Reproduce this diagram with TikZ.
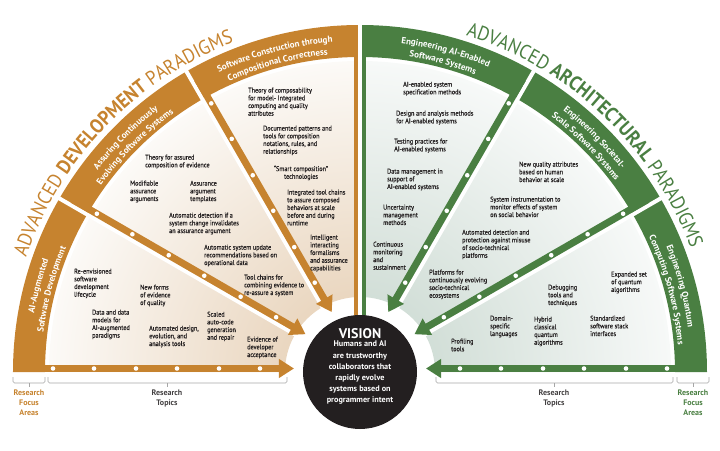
\documentclass[tikz,border=0pt]{standalone}
\usepackage{fontspec}
\setmainfont{PT Sans}
\newfontfamily\itemfam{PT Sans}[FakeStretch=0.9, FakeBold=0.4]
\newfontfamily\headfam{PT Sans}[FakeStretch=0.9]
\usetikzlibrary{arrows.meta, calc, decorations.text}
\definecolor{devorange}{HTML}{C6832F}
\definecolor{archgreen}{HTML}{4A7F42}
\definecolor{tanin}{HTML}{E4CBAE}
\definecolor{tanout}{HTML}{FCFAF7}
\definecolor{sagein}{HTML}{C6D6CD}
\definecolor{sageout}{HTML}{F7F9F8}
\definecolor{inkdark}{HTML}{231F20}
\newcommand{\ringpath}[4]{(#1:#4) arc[start angle=#1, end angle=#2, radius=#4] -- (#2:#3) arc[start angle=#2, end angle=#1, radius=#3] -- cycle}
\newcommand{\hdfont}{\headfam\fontsize{20}{20}\selectfont}
\newcommand{\bandfont}{\bfseries\fontsize{9}{9}\selectfont}
\tikzstyle{topic} = [font=\itemfam\fontsize{6.9}{7.7}\selectfont, text=inkdark, align=left, anchor=north west, inner sep=0pt]
\tikzstyle{arrowdev} = [draw=devorange, line width=7pt, -{Triangle[length=15pt, width=18pt]}]
\tikzstyle{arrowarch} = [draw=archgreen, line width=7pt, -{Triangle[length=15pt, width=18pt]}]
\tikzstyle{bandtext} = [decorate, decoration={text along path, text align=center, text color=white}]
\tikzstyle{visioncirc} = [circle, fill=inkdark, minimum size=114pt, inner sep=0pt]
\tikzstyle{visionhd} = [font=\bfseries\fontsize{14}{14}\selectfont, text=white, inner sep=0pt]
\tikzstyle{visionbody} = [font=\bfseries\fontsize{8.2}{11.2}\selectfont, text=white, align=center, inner sep=0pt]
\tikzstyle{focuslbl} = [font=\bfseries\fontsize{8}{10}\selectfont, align=center, anchor=north, inner sep=0pt]
\tikzstyle{topiclbl} = [font=\bfseries\fontsize{8}{10}\selectfont, text=inkdark!85, align=center, anchor=north, inner sep=0pt]
\tikzstyle{brace} = [draw=gray!70, line width=0.6pt, rounded corners=1.5pt]

\begin{document}
\begin{tikzpicture}[x=1pt, y=1pt]
\useasboundingbox (-360,-78) rectangle (360,372);

\begin{scope}
\clip \ringpath{90}{180}{75}{311};
\shade[inner color=tanin, outer color=tanout] (0,0) circle (311);
\end{scope}
\begin{scope}
\clip \ringpath{0}{90}{75}{311};
\shade[inner color=sagein, outer color=sageout] (0,0) circle (311);
\end{scope}
\fill[devorange] \ringpath{90}{180}{315}{347};
\fill[archgreen] \ringpath{0}{90}{315}{347};
\foreach \a in {30,60,90,120,150}
  \draw[white, line width=4pt] (\a:40) -- (\a:352);

\coordinate (devtop) at (-4,330);
\coordinate (devfoot) at (-4,50);
\coordinate (archtop) at (4,330);
\coordinate (archfoot) at (4,50);
\draw[devorange, line width=4pt] (devtop) -- (devfoot);
\draw[archgreen, line width=4pt] (archtop) -- (archfoot);

\coordinate (dev180s) at ($(180:335)+(90:3.5)$);
\coordinate (dev180e) at ($(180:66)+(90:3.5)$);
\coordinate (dev150s) at ($(150:335)+(60:5.5)$);
\coordinate (dev150e) at ($(150:66)+(60:5.5)$);
\coordinate (dev120s) at ($(120:335)+(30:5.5)$);
\coordinate (dev120e) at ($(120:66)+(30:5.5)$);
\coordinate (arch0s) at ($(0:335)+(90:3.5)$);
\coordinate (arch0e) at ($(0:66)+(90:3.5)$);
\coordinate (arch30s) at ($(30:335)+(120:5.5)$);
\coordinate (arch30e) at ($(30:66)+(120:5.5)$);
\coordinate (arch60s) at ($(60:335)+(150:5.5)$);
\coordinate (arch60e) at ($(60:66)+(150:5.5)$);
\draw[arrowdev] (dev180s) -- (dev180e);
\draw[arrowdev] (dev150s) -- (dev150e);
\draw[arrowdev] (dev120s) -- (dev120e);
\draw[arrowarch] (arch0s) -- (arch0e);
\draw[arrowarch] (arch30s) -- (arch30e);
\draw[arrowarch] (arch60s) -- (arch60e);
\foreach \r in {100,141,183,224,266,307} {
  \fill[white] ($(180:\r)+(90:3.5)$) circle (2.3);
  \fill[white] ($(150:\r)+(60:5.5)$) circle (2.3);
  \fill[white] ($(120:\r)+(30:5.5)$) circle (2.3);
  \fill[white] ($(0:\r)+(90:3.5)$) circle (2.3);
  \fill[white] ($(30:\r)+(120:5.5)$) circle (2.3);
  \fill[white] ($(60:\r)+(150:5.5)$) circle (2.3);
}

\path[bandtext, decoration={text={|\bandfont|AI-Augmented}}] (180:331) arc[start angle=180, end angle=150, radius=331];
\path[bandtext, decoration={text={|\bandfont|Software Development}}] (180:319) arc[start angle=180, end angle=150, radius=319];
\path[bandtext, decoration={text={|\bandfont|Assuring Continuously}}] (150:331) arc[start angle=150, end angle=120, radius=331];
\path[bandtext, decoration={text={|\bandfont|Evolving Software Systems}}] (150:319) arc[start angle=150, end angle=120, radius=319];
\path[bandtext, decoration={text={|\bandfont|Software Construction through}}] (120:331) arc[start angle=120, end angle=90, radius=331];
\path[bandtext, decoration={text={|\bandfont|Compositional Correctness}}] (120:319) arc[start angle=120, end angle=90, radius=319];
\path[bandtext, decoration={text={|\bandfont|Engineering AI-Enabled}}] (90:331) arc[start angle=90, end angle=60, radius=331];
\path[bandtext, decoration={text={|\bandfont|Software Systems}}] (90:319) arc[start angle=90, end angle=60, radius=319];
\path[bandtext, decoration={text={|\bandfont|Engineering Societal-}}] (60:331) arc[start angle=60, end angle=30, radius=331];
\path[bandtext, decoration={text={|\bandfont|Scale Software Systems}}] (60:319) arc[start angle=60, end angle=30, radius=319];
\path[bandtext, decoration={text={|\bandfont|Engineering Quantum}}] (30:331) arc[start angle=30, end angle=0, radius=331];
\path[bandtext, decoration={text={|\bandfont|Computing Software Systems}}] (30:319) arc[start angle=30, end angle=0, radius=319];

\path[decorate, decoration={text along path, text align=center, text color=devorange,
  text={|\hdfont|ADVANCED |\hdfont\bfseries|DEVELOPMENT|\hdfont\mdseries| PARADIGMS}}]
  (172:353) arc[start angle=172, end angle=100, radius=353];
\path[decorate, decoration={text along path, text align=center, text color=archgreen,
  text={|\hdfont|ADVANCED |\hdfont\bfseries|ARCHITECTURAL|\hdfont\mdseries| PARADIGMS}}]
  (82:353) arc[start angle=82, end angle=11, radius=353];

\node[topic] (aug1) at (-286,103.5) {Re-envisioned\\software\\development\\lifecycle};
\node[topic] (aug2) at (-220,87.5) {New forms\\of evidence\\of quality};
\node[topic] (aug3) at (-268,62.5) {Data and data\\models for\\AI-augmented\\paradigms};
\node[topic] (aug4) at (-211,46.5) {Automated design,\\evolution, and\\analysis tools};
\node[topic] (aug5) at (-153,60.5) {Scaled\\auto-code\\generation\\and repair};
\node[topic] (aug6) at (-113,35.5) {Evidence of\\developer\\acceptance};

\node[topic] (asr1) at (-215,217.5) {Theory for assured\\composition of evidence};
\node[topic] (asr2) at (-230,191.5) {Modifiable\\assurance\\arguments};
\node[topic] (asr3) at (-170,191.5) {Assurance\\argument\\templates};
\node[topic] (asr4) at (-191,159.5) {Automatic detection if a\\system change invalidates\\an assurance argument};
\node[topic] (asr5) at (-156,127.5) {Automatic system update\\recommendations based on\\operational data};
\node[topic] (asr6) at (-116,97.5) {Tool chains for\\combining evidence to\\re-assure a system};

\node[topic] (cmp1) at (-112,284.5) {Theory of composability\\for model- Integrated\\computing and quality\\attributes};
\node[topic] (cmp2) at (-97,246.5) {Documented patterns and\\tools for composition\\notations, rules, and\\relationships};
\node[topic, align=center, anchor=north] (cmp3) at (-59,206.5) {“Smart composition”\\technologies};
\node[topic] (cmp4) at (-73,182.5) {Integrated tool chains\\to assure composed\\behaviors at scale\\before and during\\runtime};
\node[topic] (cmp5) at (-50,137.5) {Intelligent\\interacting\\formalisms\\and assurance\\capabilities};

\node[topic] (aie1) at (43,290.5) {AI-enabled system\\specification methods};
\node[topic] (aie2) at (36,261.5) {Design and analysis methods\\for AI-enabled systems};
\node[topic] (aie3) at (34,233.5) {Testing practices for\\AI-enabled systems};
\node[topic] (aie4) at (27,203.5) {Data management in\\support of\\AI-enabled systems};
\node[topic] (aie5) at (23,167.5) {Uncertainty\\management\\methods};
\node[topic] (aie6) at (13,130.5) {Continuous\\monitoring\\and\\sustainment};

\node[topic] (soc1) at (159,210.5) {New quality attributes\\based on human\\behavior at scale};
\node[topic] (soc2) at (130,175.5) {System instrumentation to\\monitor effects of system\\on social behavior};
\node[topic] (soc3) at (102,142.5) {Automated detection and\\protection against misuse\\of socio-technical\\platforms};
\node[topic] (soc4) at (69,102.5) {Platforms for\\continuously evolving\\socio-technical\\ecosystems};

\node[topic] (qnt1) at (251,100.5) {Expanded set\\of quantum\\algorithms};
\node[topic] (qnt2) at (188,87.5) {Debugging\\tools and\\techniques};
\node[topic] (qnt3) at (230,56.5) {Standardized\\software stack\\interfaces};
\node[topic] (qnt4) at (174,55.5) {Hybrid\\classical\\quantum\\algorithms};
\node[topic] (qnt5) at (130,56.5) {Domain-\\specific\\languages};
\node[topic] (qnt6) at (91,33.5) {Profiling\\tools};

\node[visioncirc] (vision) at (0,0) {};
\node[visionhd, anchor=base] (visionhd) at (0,34) {VISION};
\node[visionbody, anchor=north] (visionbody) at (0,31) {Humans and AI\\are trustworthy\\collaborators that\\rapidly evolve\\systems based on\\programmer intent};

\draw[brace] (-347,-5) |- (-331,-11) -| (-315,-5);
\draw[brace] (-331,-11) -- (-331,-15);
\draw[brace] (-312,-5) |- (-193,-11) -| (-73,-5);
\draw[brace] (-193,-11) -- (-193,-15);
\draw[brace] (76,-5) |- (194,-11) -| (313,-5);
\draw[brace] (194,-11) -- (194,-15);
\draw[brace] (317,-5) |- (333,-11) -| (349,-5);
\draw[brace] (333,-11) -- (333,-15);
\node[focuslbl, text=devorange] (devfocus) at (-331,-18) {Research\\Focus\\Areas};
\node[topiclbl] (devtopics) at (-193,-18) {Research\\Topics};
\node[topiclbl] (archtopics) at (194,-18) {Research\\Topics};
\node[focuslbl, text=archgreen] (archfocus) at (333,-18) {Research\\Focus\\Areas};
\end{tikzpicture}
\end{document}
